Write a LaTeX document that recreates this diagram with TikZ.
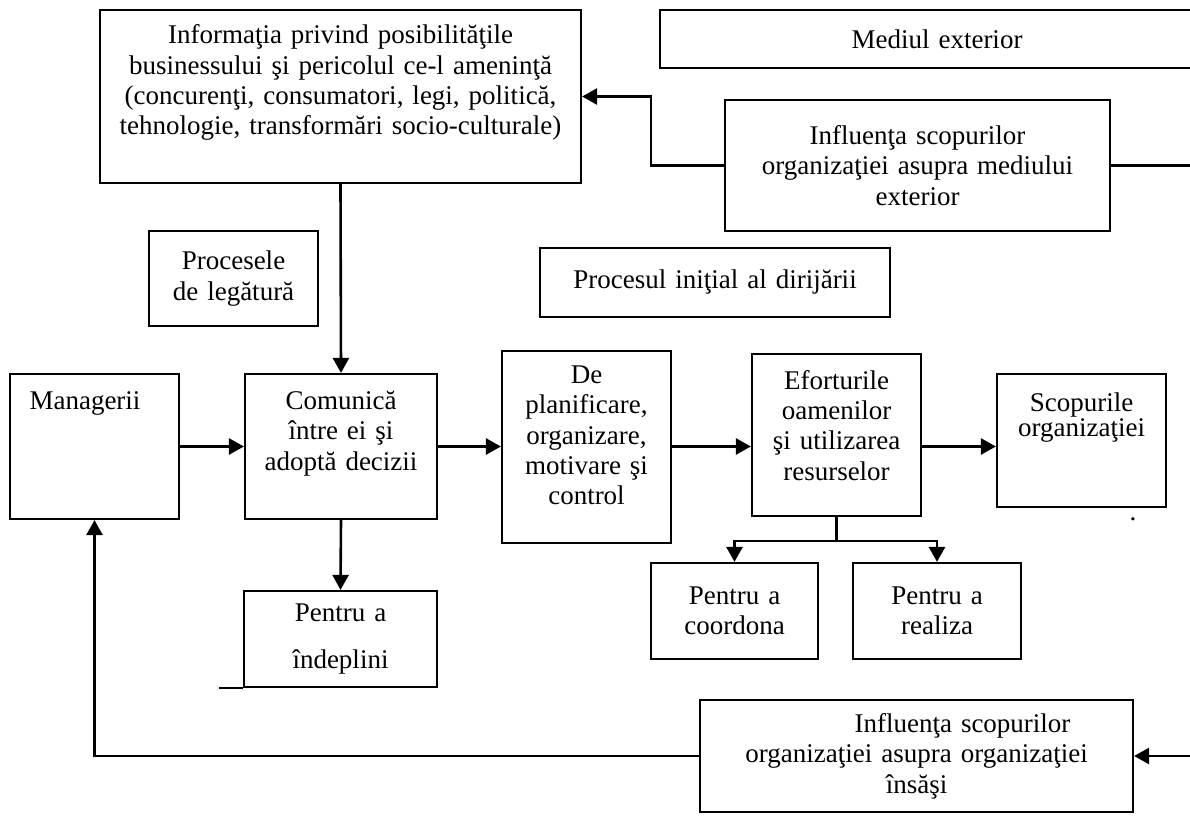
\documentclass[tikz,border=0pt]{standalone}
\usepackage{fontspec}
\setmainfont{Liberation Serif}
\usetikzlibrary{arrows.meta}

\tikzset{
  blok/.style={draw, line width=1.1pt, inner sep=0pt, align=center},
  sageata/.style={line width=1.3pt, -{Triangle[length=7.5pt,width=8pt]}},
  linie/.style={line width=1.3pt}
}

\begin{document}
\begin{tikzpicture}[x=0.5pt, y=-0.5pt, font=\fontsize{13.5pt}{15.2pt}\selectfont]
    % Fix the frame of the picture
    \useasboundingbox (0,0) rectangle (1190,825);
    \clip (0,0) rectangle (1190,825);

    % Boxes of the upper part
    \node[blok, text width=236pt, minimum width=240.5pt, minimum height=86.5pt, text depth=62.4pt] (info) at (340.5,96.5)
        {Informaţia privind posibilităţile\\ businessului şi pericolul ce-l ameninţă\\ (concurenţi, consumatori, legi, politică,\\ tehnologie, transformări socio-culturale)};
    \node[blok, text width=273pt, minimum width=277pt, minimum height=29pt] (mediu) at (937,39) {Mediul exterior};
    \node[blok, text width=188pt, minimum width=192.5pt, minimum height=65.5pt] (inflext) at (917.5,165.5)
        {Influenţa scopurilor\\ organizaţiei asupra mediului\\ exterior};
    \node[blok, text width=80pt, minimum width=84.5pt, minimum height=47.5pt] (legat) at (233.5,278.5) {Procesele\\ de legătură};
    \node[blok, text width=170pt, minimum width=175pt, minimum height=34.5pt] (initial) at (715,282.5) {Procesul iniţial al dirijării};

    % Boxes of the middle row
    \node[blok, text width=80pt, minimum width=84.5pt, minimum height=72.5pt, text depth=46.3pt] (manag) at (94.5,446.5) {\hbox{Managerii\kern9.5pt}};
    \node[blok, text width=92pt, minimum width=96pt, minimum height=72.5pt, text depth=46.2pt] (comun) at (341,446.5)
        {Comunică\\ între ei şi\\ adoptă decizii};
    \node[blok, text width=80pt, minimum width=84.5pt, minimum height=96pt, text depth=72.6pt] (plan) at (586.5,447)
        {De\\ planificare,\\ organizare,\\ motivare şi\\ control};
    \node[blok, text width=80pt, minimum width=84.5pt, minimum height=81pt, text depth=55.4pt] (efort) at (836.5,435)
        {Eforturile\\ oamenilor\\ şi utilizarea\\ resurselor};
    \node[blok, text width=80pt, minimum width=84.5pt, minimum height=66.5pt, text depth=38pt] (scop) at (1081.5,440.5)
        {Scopurile\\[-3pt] organizaţiei};
    \node[inner sep=0pt] (punct) at (1133,519) {.};

    % Boxes of the lower part
    \node[blok, text width=92pt, minimum width=96.5pt, minimum height=48pt] (indep) at (340.5,639) {Pentru a\\[8pt] îndeplini};
    \node[blok, text width=79pt, minimum width=83.5pt, minimum height=48pt] (coord) at (734.5,611) {Pentru a\\ coordona};
    \node[blok, text width=80pt, minimum width=84pt, minimum height=48pt] (realiz) at (937,611) {Pentru a\\ realiza};
    \node[blok, text width=212pt, minimum width=216.5pt, minimum height=56pt] (inflorg) at (916.5,756)
        {\hbox{\kern46pt Influenţa scopurilor}\\ organizaţiei asupra organizaţiei\\ însăşi};

    % Free ends at the right margin
    \coordinate (margdr1) at (1190,165.5);
    \coordinate (margdr2) at (1190,756);

    % Connectors
    \draw[sageata] (info.south) -- (comun.north);
    \draw[sageata] (inflext.west) -- ++(-73,0) |- (info.east);
    \draw[linie] (inflext.east) -- (margdr1);
    \draw[sageata] (manag.east) -- (comun.west);
    \draw[sageata] (comun.east) -- (plan.west |- comun.east);
    \draw[sageata] (plan.east |- comun.east) -- (efort.west |- comun.east);
    \draw[sageata] (efort.east |- comun.east) -- (scop.west |- comun.east);
    \draw[sageata] (comun.south) -- (indep.north);
    \draw[line width=1.1pt] (indep.south west) -- ++(-24,0);
    \draw[linie] (efort.south) -- ++(0,24) coordinate (ramif);
    \draw[sageata] (ramif) -| (coord.north);
    \draw[sageata] (ramif) -| (realiz.north);
    \draw[sageata] (margdr2) -- (inflorg.east);
    \draw[sageata] (inflorg.west) -| (manag.south);
\end{tikzpicture}
\end{document}
